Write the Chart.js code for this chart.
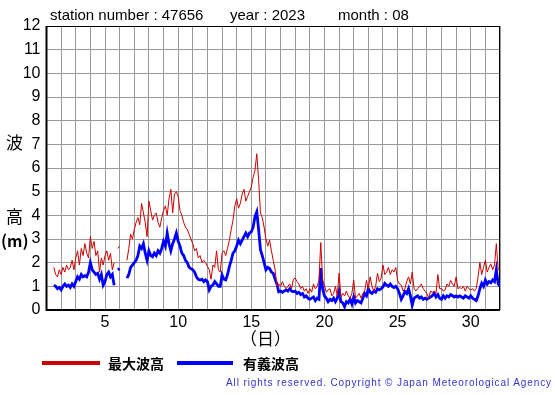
<!DOCTYPE html>
<html>
<head>
<meta charset="utf-8">
<script src="https://cdn.jsdelivr.net/npm/chart.js@4"></script>
<style>
  html, body { margin: 0; padding: 0; background: #fff; }
  #wrap { position: relative; width: 555px; height: 395px; overflow: hidden; font-family: "Liberation Sans", Arial, sans-serif; }
  #c { position: absolute; left: 0; top: 0; }
  .t { position: absolute; white-space: nowrap; color: #000; }
  .jp { font-family: "Noto Sans CJK JP", sans-serif; }
  .leg { position: absolute; height: 4px; }
</style>
</head>
<body>
<div id="wrap">
  <canvas id="c" width="555" height="395"></canvas>
  <div class="t" style="left:50px;top:6px;font-size:15px;">station number : 47656</div>
  <div class="t" style="left:230px;top:6px;font-size:15px;">year : 2023</div>
  <div class="t" style="left:338px;top:6px;font-size:15px;">month : 08</div>
  <div class="t jp" style="left:6px;top:129px;font-size:17px;">波</div>
  <div class="t jp" style="left:6px;top:203px;font-size:17px;">高</div>
  <div class="t jp" style="left:1px;top:228px;font-size:16px;font-weight:bold;">(m)</div>
  <div class="t jp" style="left:240px;top:325px;font-size:17px;">（日）</div>
  <div class="leg" style="left:42px;top:361px;width:58px;background:#cc0000;"></div>
  <div class="t jp" style="left:108px;top:353px;font-size:14px;font-weight:bold;">最大波高</div>
  <div class="leg" style="left:177px;top:361px;width:56px;background:#0000ff;"></div>
  <div class="t jp" style="left:243px;top:353px;font-size:14px;font-weight:bold;">有義波高</div>
  <div class="t" style="left:226px;top:377px;font-size:10px;letter-spacing:0.9px;color:#3333cc;">All rights reserved. Copyright © Japan Meteorological Agency</div>
</div>
<script>
// time axis: days of the month, 3-hour step starting at day 1.5
const startDay = 1.5;
const stepDays = 0.125;
const xTickLabels = [5, 10, 15, 20, 25, 30];
const seriesNames = ["最大波高", "有義波高"];

// 最大波高 (m)
const maxWave = [
  1.8, 1.5, 1.4, 1.7,
  1.5, 1.8, 1.6, 1.9, 1.7, 1.8, 2.1, 1.7,
  2.2, 2.5, 1.9, 2.6, 2.3, 2.8, 2.4, 2.2,
  3.1, 2.6, 2.9, 2.3, 2.5, 1.6, 2.2, 1.9,
  2.3, 2.5, 2.1, 2.4, 1.7, 2.0, null, 2.6,
  2.7, null, null, null, 2.1, 2.6, 3.2, 3.0,
  3.4, 3.7, 3.9, 3.6, 4.5, 4.1, 3.7, 3.1,
  4.6, 4.2, 3.8, 4.0, 4.1, 3.7, 3.5, 3.9,
  4.2, 4.4, 4.0, 4.7, 5.1, 4.1, 4.9, 5.0,
  4.8, 4.2, 4.0, 3.7, 3.5, 3.4, 3.2, 3.0,
  2.8, 2.5, 2.6, 2.2, 2.3, 2.0, 2.1, 2.0,
  1.85, 1.7, 1.3, 1.9, 1.8, 2.5, 1.7, 1.6,
  2.4, 2.5, 2.3, 2.6, 2.95, 3.4, 3.8, 4.4,
  4.7, 4.3, 4.5, 4.9, 5.1, 4.6, 4.8, 5.0,
  5.2, 5.6, 5.9, 6.6, 5.5, 4.1, 3.9, 3.5,
  3.0, 2.7, 2.95, 2.5, 2.1, 1.7, 1.0, 1.1,
  1.0, 1.2, 1.0, 0.9, 1.0, 1.1, 0.9, 1.3,
  1.35, 1.2, 1.1, 0.9, 1.0, 0.8, 0.9, 0.7,
  0.9, 0.75, 1.1, 0.9, 1.0, 1.25, 2.85, 1.25,
  1.05, 0.75, 0.85, 0.9, 0.6, 0.7, 1.0, 0.6,
  1.55, 0.55, 0.7, 0.6, 0.8, 0.6, 0.5, 0.7,
  1.27, 0.5, 0.6, 0.7, 0.5, 0.7, 0.8, 1.25,
  0.9, 1.4, 1.0, 0.8, 1.0, 1.55, 1.2, 1.35,
  1.9, 1.5, 1.6, 1.8, 1.5, 1.7, 1.6, 1.8,
  1.25, 1.1, 1.05, 0.8, 0.9, 1.2, 1.4, 1.1,
  1.6, 0.9, 0.8, 0.9, 1.0, 1.1, 0.9, 0.8,
  0.7, 0.5, 0.8, 0.75, 0.8, 0.7, 1.5, 0.9,
  0.9, 0.8, 0.85, 1.1, 1.0, 1.25, 1.1, 1.0,
  1.4, 0.9, 0.95, 0.9, 1.0, 0.8, 1.0, 0.9,
  0.85, 0.9, 0.8, 0.9, 1.4, 2.0, 1.5, 1.8,
  2.1, 1.6, 1.8, 1.95, 1.7, 1.9, 2.8, 1.7,
  1.7
];

// 有義波高 (m)
const sigWave = [
  1.05, 1.0, 0.9, 0.95,
  0.85, 1.0, 1.1, 1.0, 1.05, 0.95, 1.1, 1.0,
  1.2, 1.4, 1.3, 1.5, 1.4, 1.45, 1.4, 1.6,
  2.0, 1.7, 1.6, 1.5, 1.55, 1.3, 1.5, 1.05,
  1.2, 1.5, 1.6, 1.4, 1.5, 1.05, null, 1.7,
  1.75, null, null, null, 1.35, 1.5, 1.8, 1.9,
  2.0, 2.1, 2.3, 2.7, 2.6, 2.8, 2.4, 2.1,
  2.5, 2.3, 2.25, 2.4, 2.3, 2.5, 2.4, 2.6,
  2.9, 2.7, 3.25, 2.8, 2.5, 2.8, 3.0, 3.25,
  2.9, 2.7, 2.4, 2.3, 2.1, 2.0, 1.8, 1.75,
  1.7, 1.6, 1.4, 1.3, 1.27, 1.3, 1.2, 1.27,
  1.2, 0.85, 1.0, 1.05, 1.2, 1.1, 1.0, 1.0,
  1.48, 1.3, 1.27, 1.5, 1.83, 2.1, 2.4, 2.5,
  2.7, 2.95, 2.8, 2.95, 3.1, 3.25, 3.1, 3.25,
  3.3, 3.5, 3.95, 4.15, 3.4, 2.55, 2.3, 2.0,
  1.7, 1.8, 1.75, 1.6, 1.55, 1.3, 1.1, 0.77,
  0.8, 0.75, 0.8, 0.85, 0.8, 0.9, 0.8, 0.77,
  0.8, 0.7, 0.75, 0.65, 0.7, 0.55, 0.6, 0.5,
  0.45, 0.5, 0.55, 0.4, 0.5, 0.45, 1.77, 0.9,
  0.6, 0.5, 0.35, 0.45, 0.4, 0.5, 0.35, 0.5,
  0.8, 0.35, 0.3, 0.14, 0.35, 0.3, 0.45, 0.25,
  0.55, 0.3, 0.4, 0.35, 0.3, 0.5, 0.7, 0.6,
  0.9, 0.75, 0.7, 0.8, 0.75, 0.9, 0.85, 0.9,
  0.98, 1.13, 1.05, 1.0, 1.1, 1.0, 0.95, 1.0,
  0.9, 0.7, 0.45, 0.6, 0.78, 0.7, 0.9, 0.6,
  0.2, 0.5, 0.55, 0.6, 0.5, 0.55, 0.45, 0.5,
  0.45, 0.5, 0.55, 0.6, 0.7, 0.55, 0.65, 0.5,
  0.45, 0.6, 0.5, 0.6, 0.55, 0.65, 0.6, 0.55,
  0.6, 0.55, 0.6, 0.55, 0.5, 0.6, 0.55, 0.5,
  0.6, 0.5, 0.45, 0.4, 0.6, 0.9, 1.13, 1.0,
  1.27, 1.1, 1.2, 1.15, 1.27, 1.2, 1.7, 1.1,
  1.0
];

const toPoints = arr => arr.map((v, i) => ({ x: startDay + i * stepDays, y: v }));

const frame = {
  id: 'frame',
  beforeDatasetsDraw(chart) {
    const a = chart.chartArea, ctx = chart.ctx;
    ctx.save();
    ctx.strokeStyle = '#000';
    ctx.lineWidth = 1;
    ctx.strokeRect(a.left, a.top + 0.5, a.right - a.left - 0.5, a.bottom - a.top);
    ctx.lineWidth = 2;
    ctx.beginPath();
    ctx.moveTo(a.left, a.top);
    ctx.lineTo(a.left, a.bottom);
    ctx.lineTo(a.right, a.bottom);
    ctx.stroke();
    ctx.restore();
  }
};

new Chart(document.getElementById('c'), {
  type: 'line',
  data: {
    datasets: [
      { label: seriesNames[1], data: toPoints(sigWave), borderColor: '#0000ff', borderWidth: 2.8, pointRadius: 0, tension: 0, spanGaps: false, order: 2 },
      { label: seriesNames[0], data: toPoints(maxWave), borderColor: '#cc0000', borderWidth: 1, pointRadius: 0, tension: 0, spanGaps: false, order: 1 }
    ]
  },
  options: {
    responsive: false,
    animation: false,
    layout: { padding: { left: 0, top: 26, right: 55, bottom: 0 } },
    plugins: { legend: { display: false }, tooltip: { enabled: false }, title: { display: false } },
    scales: {
      x: {
        type: 'linear', min: 1, max: 32,
        afterFit(s) { s.height = 85; },
        grid: { color: '#999', lineWidth: 1, drawTicks: false },
        border: { display: false },
        ticks: {
          stepSize: 1, autoSkip: false, maxRotation: 0, padding: 3,
          color: '#000', font: { family: 'Liberation Sans', size: 16 },
          callback: v => xTickLabels.includes(v) ? String(v) : ''
        }
      },
      y: {
        min: 0, max: 12,
        afterFit(s) { s.width = 46.5; },
        grid: { color: '#999', lineWidth: 1, drawTicks: false },
        border: { display: false },
        ticks: {
          stepSize: 1, padding: 6, color: '#000',
          font: { family: 'Liberation Sans', size: 16 }
        }
      }
    }
  },
  plugins: [frame]
});
</script>
</body>
</html>
